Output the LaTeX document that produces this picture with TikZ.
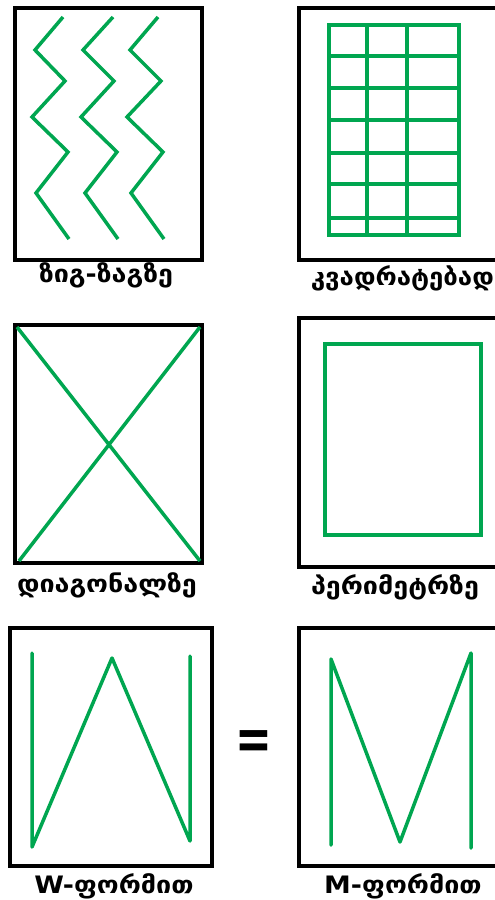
\documentclass[tikz,border=0pt]{standalone}
\usepackage{fontspec}
\newfontfamily\geo[FakeStretch=1.12]{DejaVu Sans}
\newfontfamily\eqfont{DejaVu Sans}
\definecolor{ggreen}{RGB}{0,166,80}
\begin{document}
\begin{tikzpicture}[x=1pt,y=-1pt,
  frame/.style={line width=4pt, draw=black},
  gline/.style={line width=3.5pt, draw=ggreen, line join=miter},
  lbl/.style={font=\geo\bfseries\fontsize{24}{24}\selectfont, inner sep=0pt, text=black}]
\useasboundingbox (0,0) rectangle (495,900);
\clip (0,0) rectangle (495,900);
% boxes
\draw[frame] (15,7.5) rectangle (202,259.5);
\draw[frame] (299,7.5) rectangle (510,259.5);
\draw[frame] (15,325) rectangle (202,563);
\draw[frame] (299,318) rectangle (510,567);
\draw[frame] (10,628) rectangle (212,866);
\draw[frame] (299,628) rectangle (510,866);
% zigzags
\draw[gline] (63,17) -- (35,50) -- (65,81) -- (32,117) -- (68,152) -- (36,193) -- (69,239);
\draw[gline] (113,17) -- (83,50) -- (114,81) -- (81,117) -- (117,152) -- (85,193) -- (118,239);
\draw[gline] (158,17) -- (130,50) -- (161,81) -- (127,117) -- (163,152) -- (131,193) -- (164,239);
% grid
\draw[gline, line width=4pt] (328.7,24.7) rectangle (458.7,234.7);
\foreach \x in {367,407} \draw[gline, line width=4pt] (\x,24.7) -- (\x,234.7);
\foreach \y in {56,88,120,153,184,218} \draw[gline, line width=4pt] (328.7,\y) -- (458.7,\y);
% diagonals
\draw[gline] (17,327) -- (200,561);
\draw[gline] (200,327) -- (19,561);
% perimeter
\draw[gline, line width=4pt] (325,344) rectangle (481,535);
% W and M
\draw[gline, line cap=round, line join=round] (32,653) -- (32,847) -- (112,658) -- (190,841) -- (190,656);
\draw[gline, line cap=round, line join=round] (331,845) -- (331,659) -- (400,842) -- (471,653) -- (471,848);
% labels
\node[lbl] (l1) at (106,275) {ზიგ-ზაგზე};
\node[lbl, anchor=east] (l2) at (494,278) {\scalebox{0.96}[1]{კვადრატებად}};
\node[lbl] (l3) at (107,585) {დიაგონალზე};
\node[lbl] (l4) at (395,587) {პერიმეტრზე};
\node[lbl] (l5) at (114,886) {W-ფორმით};
\node[lbl] (l6) at (403,886) {M-ფორმით};
\node[font=\eqfont\bfseries\fontsize{40}{40}\selectfont, inner sep=0pt] (eq) at (253.5,745) {\scalebox{1.1}[1.5]{=}};
\end{tikzpicture}
\end{document}
